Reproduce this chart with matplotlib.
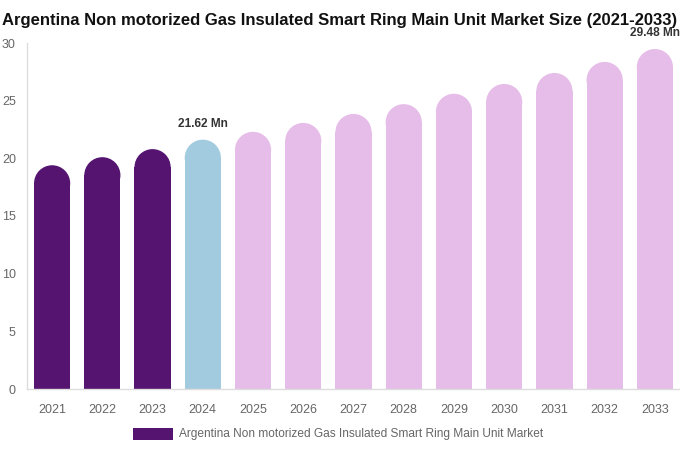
import numpy as np
import matplotlib
matplotlib.use('Agg')
import matplotlib.pyplot as plt
from matplotlib.patches import Rectangle, Ellipse

years = ['2021', '2022', '2023', '2024', '2025', '2026', '2027',
         '2028', '2029', '2030', '2031', '2032', '2033']
values = [19.4, 20.1, 20.8, 21.62, 22.3, 23.07, 23.85,
          24.7, 25.6, 26.45, 27.4, 28.36, 29.48]
bar_colors = ['#541470'] * 3 + ['#a3cbe0'] + ['#e6bce8'] * 9
annot = {3: '21.62 Mn', 12: '29.48 Mn'}
series_name = 'Argentina Non motorized Gas Insulated Smart Ring Main Unit Market'
title = 'Argentina Non motorized Gas Insulated Smart Ring Main Unit Market Size (2021-2033)'

plt.rcParams['font.family'] = ['Liberation Sans', 'DejaVu Sans']

fig = plt.figure(figsize=(6.8, 4.5), dpi=100)
ax = fig.add_axes([27 / 680, 1 - 389 / 450, 653 / 680, 346 / 450])
ax.set_xlim(-0.5, len(years) - 0.5)
ax.set_ylim(0, 30)

# bar width in data units and cap radius converted to y units
bw = 0.72
px_per_x = 653 / len(years)
px_per_y = 346 / 30
r_y = (bw * px_per_x / 2) / px_per_y

x = np.arange(len(years))
for i, v in enumerate(values):
    ax.add_patch(Rectangle((x[i] - bw / 2, 0), bw, v - r_y,
                           facecolor=bar_colors[i], edgecolor='none'))
    ax.add_patch(Ellipse((x[i], v - r_y), bw, 2 * r_y,
                         facecolor=bar_colors[i], edgecolor='none'))
    if i in annot:
        ax.text(x[i], v + 0.85, annot[i], ha='center', va='bottom',
                fontsize=8.6, fontweight='bold', color='#333333', clip_on=False)

ax.set_xticks(x)
ax.set_xticklabels(years)
ax.set_yticks([0, 5, 10, 15, 20, 25, 30])
ax.tick_params(axis='both', length=0, labelsize=9, colors='#666666')
ax.tick_params(axis='x', pad=11)
ax.tick_params(axis='y', pad=8)
for s in ['top', 'right']:
    ax.spines[s].set_visible(False)
for s in ['left', 'bottom']:
    ax.spines[s].set_color('#dddddd')
    ax.spines[s].set_linewidth(1)

# title: shrink bold font until it fits the width
t = fig.text(0.5, 1 - 21 / 450, title, ha='center', va='center',
             fontsize=14, fontweight='bold', color='#111111')
fig.canvas.draw()
w = t.get_window_extent().width
if w > 676:
    t.set_fontsize(14 * 676 / w)

# legend
fig.patches.append(Rectangle((133 / 680, 1 - 440 / 450), 40 / 680, 12 / 450,
                             transform=fig.transFigure, facecolor='#541470',
                             edgecolor='none'))
fig.text(179 / 680, 1 - 434 / 450, series_name, ha='left', va='center',
         fontsize=8.6, color='#666666')

fig.savefig('out.png', dpi=100)
